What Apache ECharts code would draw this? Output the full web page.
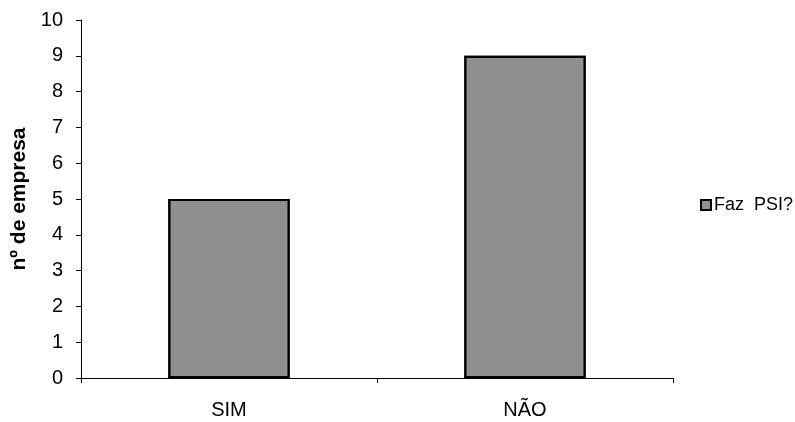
<!DOCTYPE html>
<html>
<head>
<meta charset="utf-8">
<script src="https://cdn.jsdelivr.net/npm/echarts@6/dist/echarts.min.js"></script>
<style>
  html, body { margin: 0; padding: 0; background: #fff; }
  #chart { width: 795px; height: 422px; }
</style>
</head>
<body>
<div id="chart"></div>
<script>
// Respostas à pergunta "Faz PSI?"
const categories = ['SIM', 'NÃO'];
const companies = [5, 9];
const seriesName = 'Faz  PSI?';
const yTicks = [0, 1, 2, 3, 4, 5, 6, 7, 8, 9, 10];

const chart = echarts.init(document.getElementById('chart'), null, { renderer: 'canvas' });
const font = '"Liberation Sans", Arial, sans-serif';

chart.setOption({
  backgroundColor: '#ffffff',
  animation: false,
  textStyle: { fontFamily: font },
  legend: {
    data: [seriesName],
    orient: 'vertical',
    left: 695,
    top: 191,
    itemWidth: 10,
    itemHeight: 10,
    itemGap: 4,
    icon: 'rect',
    textStyle: { fontSize: 18, color: '#000', fontFamily: font, padding: [0, 0, 0, -2] }
  },
  grid: { left: 81, right: 122, top: 20, bottom: 44, containLabel: false },
  xAxis: {
    type: 'category',
    data: categories,
    axisLine: { lineStyle: { color: '#000', width: 1 } },
    axisTick: { show: true, alignWithLabel: false, length: 5, lineStyle: { color: '#000' } },
    axisLabel: { fontSize: 20, color: '#000', margin: 22, fontFamily: font }
  },
  yAxis: {
    type: 'value',
    min: yTicks[0],
    max: yTicks[yTicks.length - 1],
    interval: 1,
    name: 'nº de empresa',
    nameLocation: 'middle',
    nameGap: 51,
    nameMoveOverlap: false,
    nameTextStyle: { fontSize: 21, fontWeight: 'bold', color: '#000', fontFamily: font },
    axisLine: { show: true, lineStyle: { color: '#000', width: 1 } },
    axisTick: { show: true, length: 5, lineStyle: { color: '#000' } },
    axisLabel: { fontSize: 20, color: '#000', margin: 18, fontFamily: font },
    splitLine: { show: false }
  },
  series: [{
    name: seriesName,
    type: 'bar',
    data: companies,
    barWidth: '41%',
    itemStyle: {
      color: '#929292',
      borderColor: '#000',
      borderWidth: 2,
      decal: {
        symbol: 'rect',
        symbolSize: 0.5,
        dashArrayX: [1, 1],
        dashArrayY: [1, 1],
        color: 'rgba(40,40,40,0.35)',
        rotation: 0
      }
    }
  }]
});
</script>
</body>
</html>
